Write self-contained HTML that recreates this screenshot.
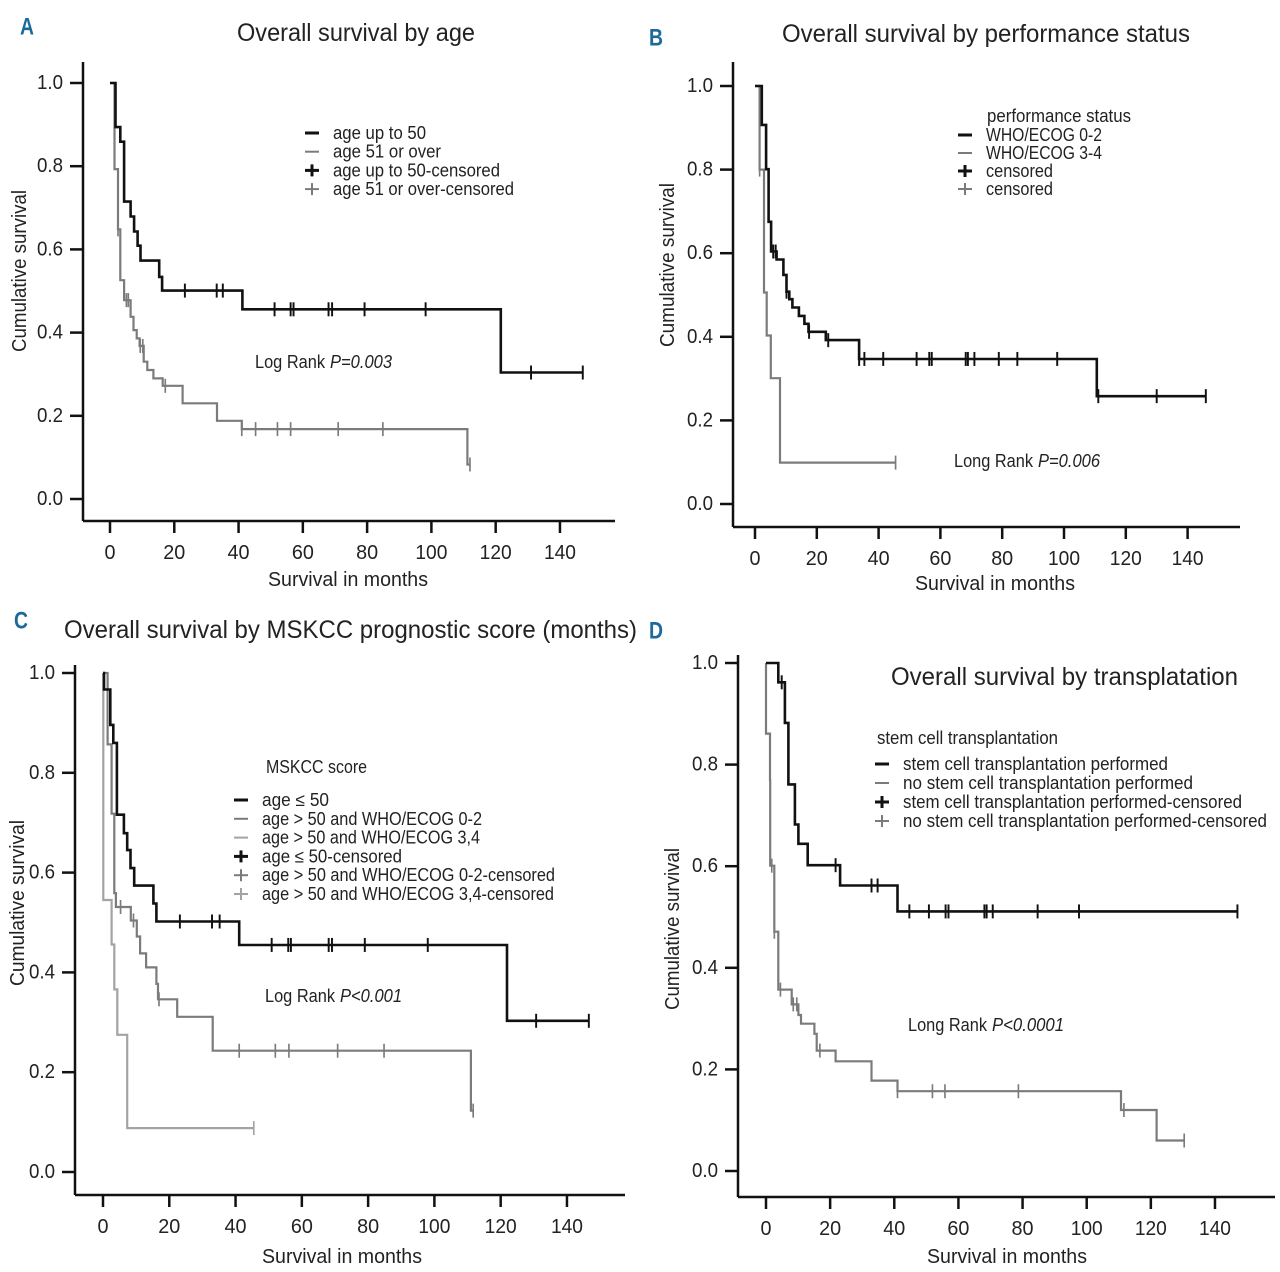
<!DOCTYPE html>
<html><head><meta charset="utf-8">
<style>
html,body{margin:0;padding:0;background:#fff;}
svg{display:block;font-family:"Liberation Sans",Arial,sans-serif;}
</style></head>
<body>
<svg id="fig" width="1280" height="1272" viewBox="0 0 1280 1272" xmlns="http://www.w3.org/2000/svg"></svg>
<script>
// ---------- Panel A data: overall survival by age ----------
const A_young_t = [1.7,3.2,4.4,6.4,7.5,8.6,9.5,15.3,16.2,41.2,121.6];
const A_young_v = [0.894,0.859,0.715,0.679,0.643,0.609,0.573,0.534,0.501,0.456,0.304];
const A_young_c = [23.3,33.2,35.1,51.2,56.2,57.1,68.0,69.1,79.2,98.2,131.0,147.1];
const A_old_t = [1.4,2.5,3.2,4.4,6.4,7.3,8.3,9.2,10.5,11.6,13.5,16.4,22.6,33.3,41.0,111.2];
const A_old_v = [0.793,0.648,0.526,0.478,0.438,0.406,0.386,0.368,0.33,0.31,0.29,0.272,0.23,0.188,0.168,0.083];
const A_old_c = [2.5,5.1,5.7,9.4,10.2,17.2,41.0,45.3,52.1,56.2,71.0,84.9,112.0];
// ---------- Panel B data: performance status ----------
const B_good_t = [2.2,3.6,4.4,5.2,7.0,9.2,10.2,11.1,12.1,14.2,16.0,17.3,22.9,33.7,110.6];
const B_good_v = [0.907,0.801,0.675,0.604,0.585,0.548,0.508,0.49,0.47,0.45,0.431,0.412,0.392,0.347,0.258];
const B_good_c = [5.9,6.7,10.2,17.5,23.7,33.7,35.4,41.5,52.3,56.4,57.2,68.2,68.9,71.0,78.9,84.9,97.8,111.1,130.0,145.9];
const B_poor_t = [1.5,2.9,3.8,5.1,8.1];
const B_poor_v = [0.8,0.506,0.403,0.301,0.099];
const B_poor_c = [1.5,45.5];
// ---------- Panel C data: MSKCC score ----------
const C_low_t = [0.3,2.2,3.1,4.2,6.3,7.3,8.3,9.4,15.2,16.1,41.1,121.9];
const C_low_v = [0.967,0.896,0.86,0.716,0.679,0.645,0.609,0.574,0.538,0.502,0.455,0.303];
const C_low_c = [23.2,32.9,35.2,50.9,55.9,56.7,68.1,69.1,79.0,98.0,130.7,146.6];
const C_mid_t = [1.4,2.6,3.4,3.9,8.4,10.2,11.2,13.0,16.1,16.6,22.4,33.1,111.0];
const C_mid_v = [0.857,0.718,0.559,0.531,0.504,0.472,0.438,0.41,0.377,0.346,0.311,0.243,0.123];
const C_mid_c = [5.3,9.2,16.9,41.1,52.0,56.1,70.8,84.8,111.7];
const C_high_t = [0.1,2.6,3.4,4.3,7.3];
const C_high_v = [0.545,0.456,0.366,0.275,0.088];
const C_high_c = [45.5];
// ---------- Panel D data: transplantation ----------
const D_sct_t = [3.85,5.9,7.0,9.0,10.1,13.0,23.1,41.0];
const D_sct_v = [0.962,0.882,0.761,0.682,0.644,0.602,0.562,0.511];
const D_sct_c = [4.9,21.7,32.9,34.8,44.7,50.8,56.0,56.9,68.1,68.8,70.7,84.7,97.6,147.0];
const D_no_t = [0.0,1.25,1.3,2.6,3.85,8.0,10.1,10.9,15.1,15.8,21.7,32.9,41.0,110.7,121.8];
const D_no_v = [0.861,0.769,0.601,0.471,0.357,0.328,0.307,0.29,0.27,0.237,0.216,0.178,0.157,0.12,0.06];
const D_no_c = [1.8,2.6,4.5,8.5,9.6,16.8,41.0,51.9,55.8,78.7,111.6,130.4];
// ---------- axis ticks ----------
const xTicks = [0,20,40,60,80,100,120,140];
const yTicks = [0.0,0.2,0.4,0.6,0.8,1.0];

const NS = "http://www.w3.org/2000/svg";
const svg = document.getElementById('fig');
function mk(tag, attrs, parent){
  const e = document.createElementNS(NS, tag);
  for (const k in attrs) e.setAttribute(k, attrs[k]);
  (parent||svg).appendChild(e);
  return e;
}
function txt(str, x, y, size, len, anchor, parent, extra){
  const t = mk('text', Object.assign({x:x, y:y, 'font-size':size, fill:'#222', 'text-anchor':anchor||'start', 'dominant-baseline':'central'}, extra||{}), parent);
  if (len){ t.setAttribute('textLength', len); t.setAttribute('lengthAdjust','spacingAndGlyphs'); }
  t.textContent = str;
  return t;
}

function panel(P){
  const g = mk('g', {});
  
  
  P.x = t => P.x0 + t*P.ppm;
  P.y = v => P.y0 - v*P.ppv;
  const L = txt(P.letter, P.lx, P.ly, 24, 14, 'start', g, {'font-weight':'bold', fill:'#1d6a9a'});
  
  
  const T = txt(P.title, P.tx, P.ty, 25, P.tlen, 'start', g);
  
  
  const ya = mk('line', {x1:P.ax, y1:P.atop, x2:P.ax, y2:P.ay, stroke:'#111', 'stroke-width':2.5}, g);
  
  
  const xa = mk('line', {x1:P.ax, y1:P.ay, x2:P.aright, y2:P.ay, stroke:'#111', 'stroke-width':2.5}, g);
  
  
  yTicks.forEach(v => {
    const yy = P.y(v);
    mk('line', {x1:P.ax-13, y1:yy, x2:P.ax, y2:yy, stroke:'#111', 'stroke-width':2.5}, g);
    const lab = txt(v.toFixed(1), P.ax-20, yy, 20, 26, 'end', g);
    
    
  });
  xTicks.forEach(v => {
    const xx = P.x(v);
    mk('line', {x1:xx, y1:P.ay, x2:xx, y2:P.ay+12, stroke:'#111', 'stroke-width':2.5}, g);
    const lab = txt(String(v), xx, P.ay+32, 20, v<10?11:(v<100?22:32), 'middle', g);
    
    
  });
  const yt = txt('Cumulative survival', 0, 0, 20, P.ytlen, 'middle', g, {transform:`translate(${P.ytx},${P.yty}) rotate(-90)`});
  
  
  const xt = txt('Survival in months', P.xtx, P.xty, 20, 160, 'middle', g);
  
  
  return g;
}

function km(P, g, t, v, c, color, w, name){
  let d = `M${P.x(0)},${P.y(1)}`;
  for (let i=0;i<t.length;i++){ d += ` H${P.x(t[i]).toFixed(1)} V${P.y(v[i]).toFixed(1)}`; }
  const tmax = Math.max(t[t.length-1], c.length?Math.max(...c):0);
  d += ` H${P.x(tmax).toFixed(1)}`;
  const p = mk('path', {d:d, fill:'none', stroke:color, 'stroke-width':w}, g);
  
  
  c.forEach(ct => {
    let s = 1;
    for (let i=0;i<t.length;i++){ if (t[i] <= ct) s = v[i]; }
    const xx = P.x(ct), yy = P.y(s);
    const m = mk('line', {x1:xx, y1:yy-7, x2:xx, y2:yy+7, stroke:color, 'stroke-width':w*0.75}, g);
    
    
  });
}

function legend(g, x, y0, dy, items, title, titleX, titleY, titleLen){
  if (title){
    const tt = txt(title, titleX, titleY, 18, titleLen, 'start', g);
    
    
  }
  items.forEach((it, i) => {
    const yy = y0 + i*dy;
    const e = mk('g', {}, g);
    
    
    mk('line', {x1:x, y1:yy, x2:x+14, y2:yy, stroke:it.c, 'stroke-width':it.bold?3:2}, e);
    if (it.cross) mk('line', {x1:x+7, y1:yy-6, x2:x+7, y2:yy+6, stroke:it.c, 'stroke-width':it.bold?3:2}, e);
    txt(it.label, x+28, yy, 18, it.len, 'start', e);
  });
}

function rank(g, label, x, y, w, pv, pw){
  const a = txt(label, x, y, 18, w, 'start', g);
  
  
  const b = txt(pv, x + w + 5, y, 18, pw, 'start', g, {'font-style':'italic'});
  
  
}

const BLK='#111', MID='#7b7b7b', LT='#a3a3a3';

// Panel A
const PA = {name:'panel-a-age', letter:'A', lx:20, ly:27, title:'Overall survival by age', tx:237, ty:33, tlen:238,
  x0:110, ppm:3.214, y0:499, ppv:416, ax:83, atop:62, ay:521, aright:615,
  ytx:20, yty:271, ytlen:162, xtx:348, xty:580};
const gA = panel(PA);
km(PA, gA, A_old_t, A_old_v, A_old_c, MID, 2.2, 'age-51-or-over');
km(PA, gA, A_young_t, A_young_v, A_young_c, BLK, 2.6, 'age-up-to-50');
legend(gA, 305, 133, 18.7, [
  {label:'age up to 50', c:BLK, bold:1, len:93},
  {label:'age 51 or over', c:MID, len:108},
  {label:'age up to 50-censored', c:BLK, bold:1, cross:1, len:167},
  {label:'age 51 or over-censored', c:MID, cross:1, len:181}]);
rank(gA, 'Log Rank', 255, 362, 70, 'P=0.003', 62);

// Panel B
const PB = {name:'panel-b-performance', letter:'B', lx:649, ly:38, title:'Overall survival by performance status', tx:782, ty:34, tlen:408,
  x0:755, ppm:3.09, y0:504, ppv:418, ax:733, atop:62, ay:527, aright:1240,
  ytx:668, yty:265, ytlen:164, xtx:995, xty:584};
const gB = panel(PB);
km(PB, gB, B_poor_t, B_poor_v, B_poor_c, MID, 2.2, 'who-ecog-3-4');
km(PB, gB, B_good_t, B_good_v, B_good_c, BLK, 2.6, 'who-ecog-0-2');
legend(gB, 958, 135, 18, [
  {label:'WHO/ECOG 0-2', c:BLK, bold:1, len:116},
  {label:'WHO/ECOG 3-4', c:MID, len:116},
  {label:'censored', c:BLK, bold:1, cross:1, len:67},
  {label:'censored', c:MID, cross:1, len:67}], 'performance status', 987, 116, 144);
rank(gB, 'Long Rank', 954, 461, 79, 'P=0.006', 62);

// Panel C
const PC = {name:'panel-c-mskcc', letter:'C', lx:14, ly:621, title:'Overall survival by MSKCC prognostic score (months)', tx:64, ty:630, tlen:573,
  x0:103, ppm:3.314, y0:1172, ppv:499, ax:75, atop:665, ay:1195, aright:625,
  ytx:18, yty:903, ytlen:166, xtx:342, xty:1257};
const gC = panel(PC);
km(PC, gC, C_high_t, C_high_v, C_high_c, LT, 2.2, 'age-over-50-ecog-3-4');
km(PC, gC, C_mid_t, C_mid_v, C_mid_c, MID, 2.2, 'age-over-50-ecog-0-2');
km(PC, gC, C_low_t, C_low_v, C_low_c, BLK, 2.6, 'age-50-or-less');
legend(gC, 234, 800, 18.8, [
  {label:'age \u2264 50', c:BLK, bold:1, len:67},
  {label:'age > 50 and WHO/ECOG 0-2', c:MID, len:220},
  {label:'age > 50 and WHO/ECOG 3,4', c:LT, len:218},
  {label:'age \u2264 50-censored', c:BLK, bold:1, cross:1, len:140},
  {label:'age > 50 and WHO/ECOG 0-2-censored', c:MID, cross:1, len:293},
  {label:'age > 50 and WHO/ECOG 3,4-censored', c:LT, cross:1, len:292}], 'MSKCC score', 266, 767, 101);
rank(gC, 'Log Rank', 265, 996, 70, 'P<0.001', 62);

// Panel D
const PD = {name:'panel-d-transplantation', letter:'D', lx:649, ly:631, title:'Overall survival by transplatation', tx:891, ty:677, tlen:347,
  x0:766, ppm:3.207, y0:1171, ppv:508, ax:738, atop:655, ay:1197, aright:1275,
  ytx:673, yty:929, ytlen:162, xtx:1007, xty:1257};
const gD = panel(PD);
km(PD, gD, D_no_t, D_no_v, D_no_c, MID, 2.2, 'no-transplantation');
km(PD, gD, D_sct_t, D_sct_v, D_sct_c, BLK, 2.6, 'transplantation-performed');
legend(gD, 875, 764, 19, [
  {label:'stem cell transplantation performed', c:BLK, bold:1, len:265},
  {label:'no stem cell transplantation performed', c:MID, len:290},
  {label:'stem cell transplantation performed-censored', c:BLK, bold:1, cross:1, len:339},
  {label:'no stem cell transplantation performed-censored', c:MID, cross:1, len:364}], 'stem cell transplantation', 877, 738, 181);
rank(gD, 'Long Rank', 908, 1025, 79, 'P<0.0001', 72);
</script>
</body></html>
